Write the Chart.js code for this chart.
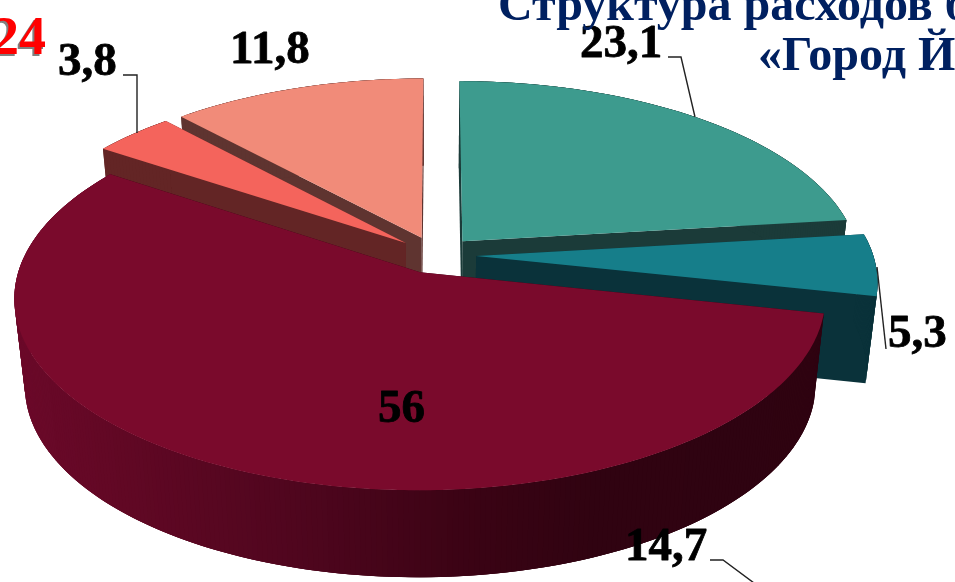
<!DOCTYPE html>
<html lang="ru"><head><meta charset="utf-8">
<style>html,body{margin:0;padding:0;background:#fff;overflow:hidden}canvas{display:block}</style>
<script src="https://cdn.jsdelivr.net/npm/chart.js@4"></script></head>
<body><canvas id="c" width="955" height="582"></canvas>
<script>
const categories = ['23,1','5,3','56','3,8','11,8'];
const values = [23.1, 5.3, 56, 3.8, 11.8];
const extraLabel = '14,7';
const highlightLabel = '24';
const titleLines = ['Структура расходов б', '«Город Й'];

const topColors = ['#3D9B8E','#167E8A','#7A0A2C','#F4645C','#F18B79'];
const wallColors = ['#1B3B39','#0A323A','#2F0311','#632525','#5F3430'];
const labelSpots = [[580,57],[888,347],[378,422],[58,75],[230,63]];
const wallStops = [[0,[108,9,42]],[100,[99,8,37]],[300,[79,6,30]],[480,[58,3,20]],[600,[48,3,17]],[955,[46,3,16]]];
const wallOrder = [4,3,0,1,2];
const P = {x0:436, y0:255, a:397, b:184.4, e:0.131, depth:87, shrink:0.975};

function project(u,v,lower){
  const w = 1 - P.e*v;
  const k = lower ? P.shrink : 1;
  return [P.x0 + k*P.a*u/w, P.y0 + (lower?P.depth:0) + P.b*v/w];
}
function outline(el){
  const p = el.getProps(['startAngle','endAngle','outerRadius'], true);
  const R = p.outerRadius, off = (el.options.offset||0)/R;
  const mid = (p.startAngle+p.endAngle)/2;
  const ox = Math.cos(mid)*off, oy = Math.sin(mid)*off;
  const n = Math.max(3, Math.ceil((p.endAngle-p.startAngle)/0.012));
  const rim = [];
  for(let i=0;i<=n;i++){
    const t = p.startAngle+(p.endAngle-p.startAngle)*i/n;
    rim.push([ox+Math.cos(t), oy+Math.sin(t)]);
  }
  return {apex:[ox,oy], rim};
}
function wallShade(x){
  for(let i=1;i<wallStops.length;i++){
    if(x<=wallStops[i][0]){
      const a=wallStops[i-1],b=wallStops[i],t=(x-a[0])/(b[0]-a[0]);
      const c=a[1].map((q,j)=>Math.round(q+(b[1][j]-q)*t));
      return `rgb(${c[0]},${c[1]},${c[2]})`;
    }
  }
  return '#2e0310';
}
function quad(ctx,a,b,color){
  const a1=project(a[0],a[1]),b1=project(b[0],b[1]),b2=project(b[0],b[1],true),a2=project(a[0],a[1],true);
  ctx.beginPath();ctx.moveTo(a1[0],a1[1]);ctx.lineTo(b1[0],b1[1]);ctx.lineTo(b2[0],b2[1]);ctx.lineTo(a2[0],a2[1]);ctx.closePath();
  ctx.fillStyle=color;ctx.fill();
}
const solid3d = {
  id:'solid3d',
  beforeDatasetsDraw(chart){
    const ctx=chart.ctx, els=chart.getDatasetMeta(0).data;
    wallOrder.forEach(i=>{
      const o=outline(els[i]), flat=wallColors[i], last=o.rim.length-1;
      quad(ctx,o.apex,o.rim[0],flat);
      quad(ctx,o.apex,o.rim[last],flat);
      for(let j=0;j<last;j++){
        const c = i===2 ? wallShade(project(o.rim[j][0],o.rim[j][1])[0]) : flat;
        quad(ctx,o.rim[j],o.rim[Math.min(j+3,last)],c);
      }
    });
    els.forEach(el=>{
      el.draw=function(c){
        const o=outline(this);
        c.save();c.beginPath();
        const a=project(o.apex[0],o.apex[1]);c.moveTo(a[0],a[1]);
        o.rim.forEach(r=>{const q=project(r[0],r[1]);c.lineTo(q[0],q[1]);});
        c.closePath();c.fillStyle=this.options.backgroundColor;c.fill();c.restore();
      };
    });
  },
  afterDraw(chart){
    const c=chart.ctx;
    c.save();
    c.strokeStyle='#222';c.lineWidth=1.4;
    [[[668,57],[681,57],[695,117]],[[123,75],[137,75],[137,133]],[[877,267],[886,349]],[[710,560],[723,560],[754,583]]].forEach(l=>{
      c.beginPath();l.forEach((p,i)=>i?c.lineTo(p[0],p[1]):c.moveTo(p[0],p[1]));c.stroke();
    });
    c.textAlign='left';c.textBaseline='alphabetic';c.lineJoin='round';
    c.font='bold 47px "Liberation Serif"';c.fillStyle='#000';c.strokeStyle='#000';c.lineWidth=0.8;
    categories.forEach((t,i)=>{c.fillText(t,labelSpots[i][0],labelSpots[i][1]);c.strokeText(t,labelSpots[i][0],labelSpots[i][1]);});
    c.fillText(extraLabel,625,560);c.strokeText(extraLabel,625,560);
    c.save();
    c.font='bold 54px "Liberation Serif"';c.fillStyle='#f00';
    c.shadowColor='#808080';c.shadowOffsetX=-2;c.shadowOffsetY=2;c.shadowBlur=0;
    c.fillText(highlightLabel,-8,54);
    c.restore();
    c.font='bold 48px "Liberation Serif"';c.fillStyle='#002060';
    c.fillText(titleLines[0],498,20);
    c.fillText(titleLines[1],758,70);
    c.restore();
  }
};
new Chart(document.getElementById('c'),{
  type:'pie',
  data:{labels:categories,datasets:[{data:values,backgroundColor:topColors,borderWidth:0,offset:28,hoverOffset:0}]},
  options:{responsive:false,animation:false,rotation:0,layout:{padding:0},events:[],
    plugins:{legend:{display:false},tooltip:{enabled:false},title:{display:false}}},
  plugins:[solid3d]
});
</script></body></html>
